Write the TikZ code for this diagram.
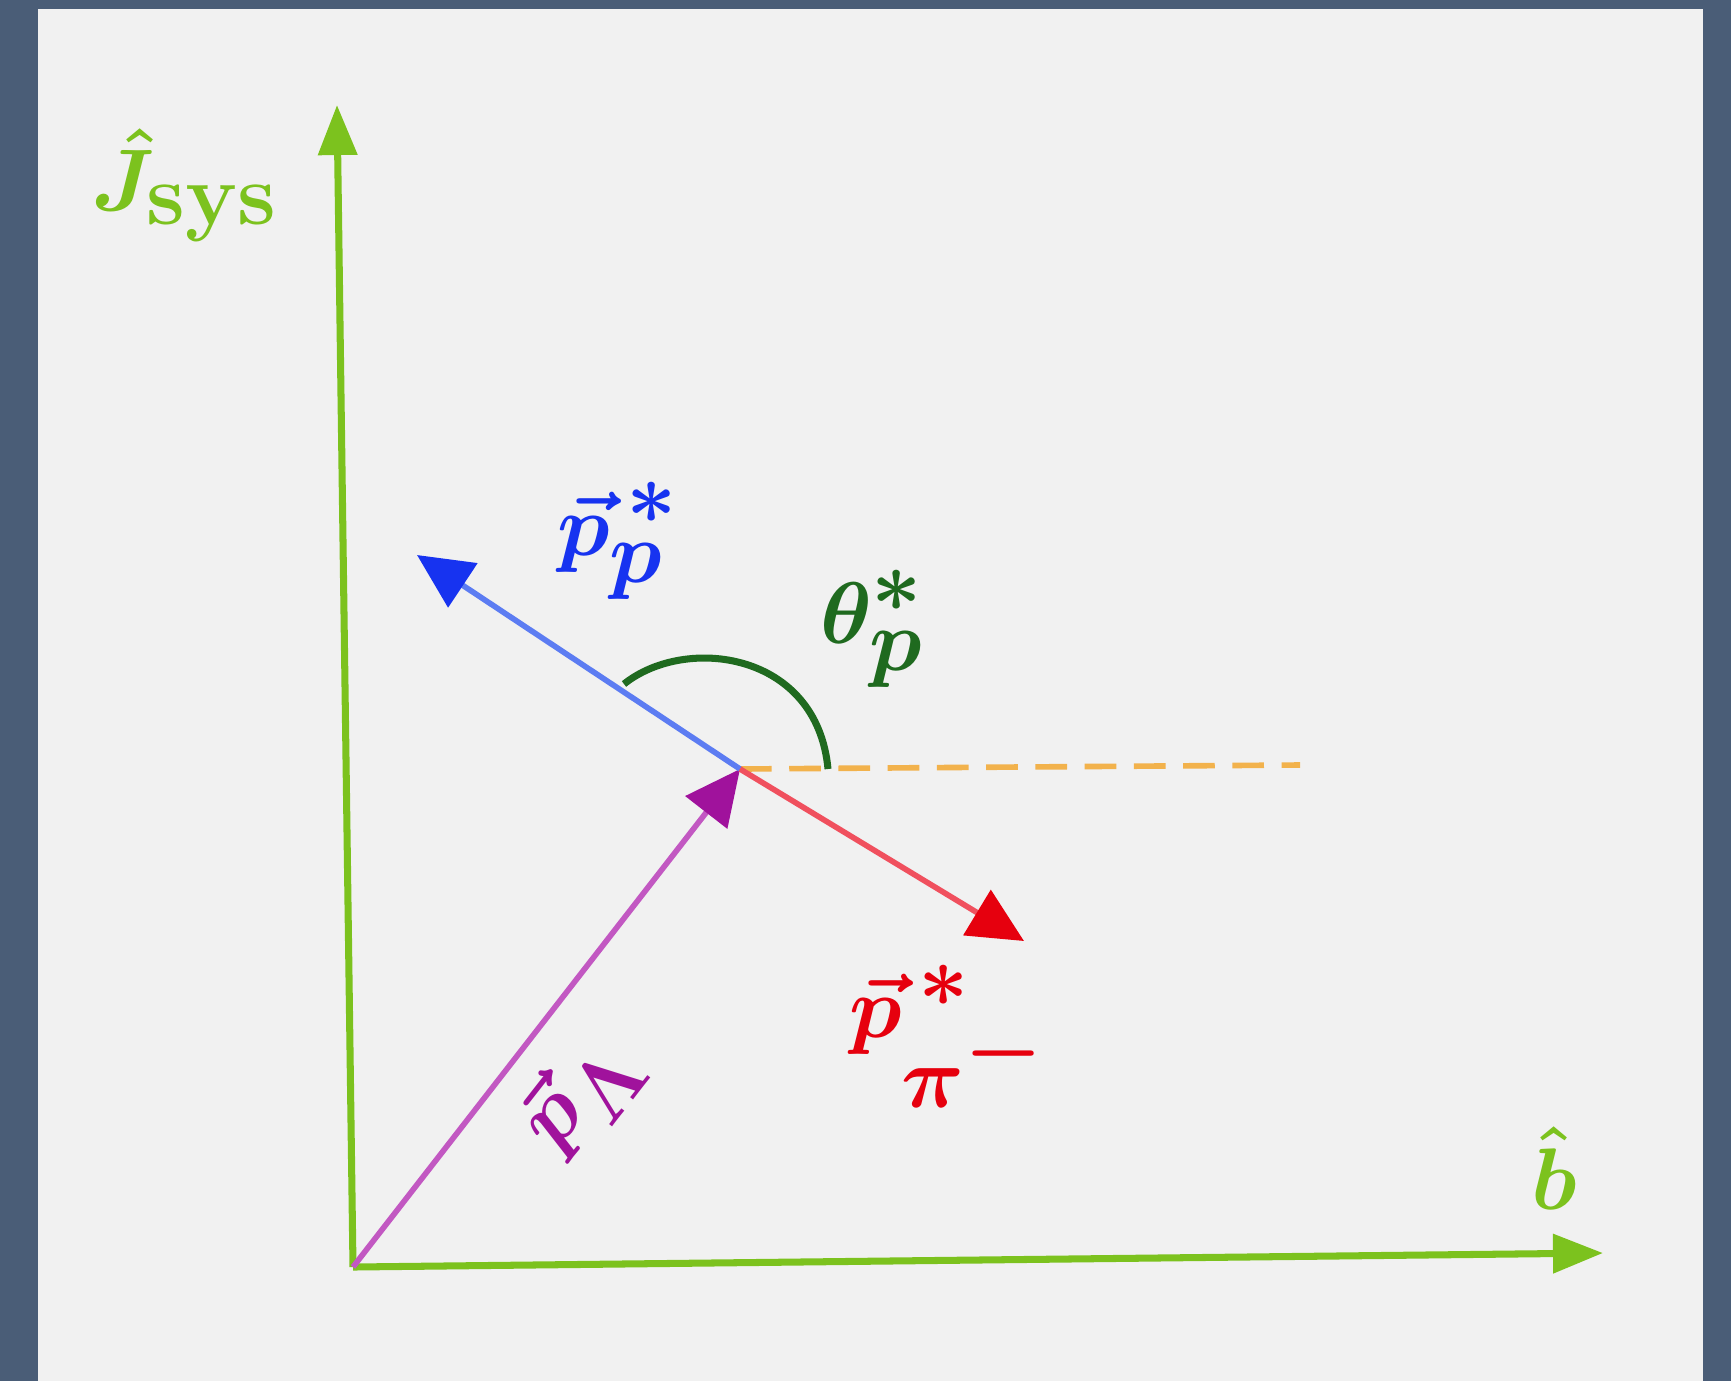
\documentclass[tikz,border=0pt]{standalone}
\usepackage{amsmath}
\usetikzlibrary{arrows.meta, positioning}
\definecolor{framebg}{HTML}{4A5D77}
\definecolor{paperbg}{HTML}{F1F1F1}
\definecolor{axgreen}{HTML}{7CC21E}
\definecolor{arcgreen}{HTML}{1F6A1F}
\definecolor{pline}{HTML}{5C7CF2}
\definecolor{phead}{HTML}{1733F0}
\definecolor{piline}{HTML}{F0505E}
\definecolor{pihead}{HTML}{E6000E}
\definecolor{lline}{HTML}{C258C2}
\definecolor{lhead}{HTML}{A0129C}
\definecolor{dashorange}{HTML}{F2B24C}
\tikzset{
  % assi del sistema
  axis/.style={line width=2pt, axgreen,
    -{Triangle[length=5mm, width=3.8mm]}},
  % vettori impulso
  vec/.style={line width=1.6pt, -{Triangle[length=5.5mm, width=5.2mm, color=#1]}},
  % riferimento orizzontale
  refline/.style={line width=1.6pt, dashorange, dash pattern=on 9pt off 5pt},
  % angolo
  anglearc/.style={line width=2pt, arcgreen},
  % etichette
  biglbl/.style={font=\fontsize{48}{54}\selectfont\boldmath, inner sep=0pt},
  midlbl/.style={font=\fontsize{36}{42}\selectfont\boldmath, inner sep=0pt},
}
\begin{document}
\begin{tikzpicture}[x=0.01cm, y=0.01cm]
  \fill[framebg] (0,0) rectangle (1731,-1381);
  \fill[paperbg] (38,-9) rectangle (1703,-1381);
  \useasboundingbox (0,0) rectangle (1731,-1381);
  \coordinate (o) at (353,-1267);
  \coordinate (ytip) at (337,-105);
  \coordinate (xtip) at (1603,-1253);
  \coordinate (c) at (740,-769);
  \coordinate (ptip) at (417,-555);
  \coordinate (pitip) at (1024,-941);
  \coordinate (dashend) at (1300,-765);
  \coordinate (arcstart) at (828,-769);
  \coordinate (arcend) at (624,-684);
  \draw[axis] (o) -- (ytip);
  \draw[axis] (o) -- (xtip);
  \draw[refline] (c) -- (dashend);
  \draw[vec=lhead, lline] (o) -- (c);
  \draw[vec=phead, pline] (c) -- (ptip);
  \draw[vec=pihead, piline] (c) -- (pitip);
  \draw[anglearc] (arcstart) .. controls (817,-651) and (685,-635) .. (arcend);
  \node[biglbl, axgreen] (jsys) at (185,-185) {$\hat{J}_{\mathrm{sys}}$};
  \node[midlbl, axgreen] (bhat) at (1554,-1168) {$\hat{b}$};
  \node[biglbl, phead] (pp) at (618,-541) {$\vec{p}^{\,*}_{p}$};
  \node[midlbl, arcgreen] (theta) at (872,-629) {$\theta^{*}_{p}$};
  \node[biglbl, pihead] (ppi) at (948,-1036) {$\vec{p}^{\,*}_{\scriptscriptstyle\pi^-}$};
  \node[midlbl, lhead, rotate=52] (plam) at (580,-1094) {$\vec{p}_{\Lambda}$};
\end{tikzpicture}
\end{document}
